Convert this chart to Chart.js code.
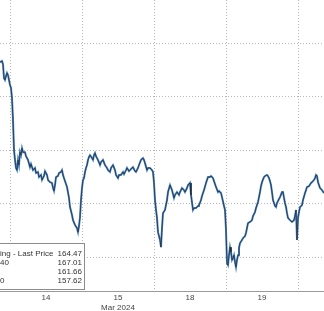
<!DOCTYPE html>
<html><head><meta charset="utf-8">
<script src="https://cdn.jsdelivr.net/npm/chart.js@4"></script>
<style>html,body{margin:0;padding:0;background:#fff;overflow:hidden}canvas{display:block}</style>
</head><body>
<canvas id="c" width="324" height="311"></canvas>
<script>
// time in minutes from start of Mar 14 (session axis), price
const minutes=[-200,-160,-140,-120,-100,-80,-60,-40,-20,0,20,40,60,80,100,120,140,160,180,200,220,240,260,300,320,360,400,420,460,500,520,560,580,620,640,680,700,740,760,800,840,860,880,900,920,960,980,1020,1040,1060,1080,1120,1140,1180,1200,1240,1260,1300,1340,1360,1380,1400,1420,1440,1460,1480,1500,1520,1540,1560,1580,1600,1640,1660,1680,1700,1720,1760,1800,1820,1860,1900,1940,1960,2000,2020,2060,2100,2120,2160,2180,2220,2260,2280,2320,2340,2380,2400,2440,2460,2500,2520,2560,2580,2620,2660,2680,2700,2740,2760,2800,2840,2860,2880,2900,2920,2940,2960,3000,3020,3040,3060,3100,3140,3160,3200,3240,3280,3300,3340,3380,3400,3440,3480,3500,3540,3560,3600,3620,3660,3680,3720,3760,3780,3820,3840,3880,3920,3960,4000,4020,4060,4080,4120,4160,4180,4220,4240,4280,4300,4320,4340,4360,4380,4400,4420,4440,4460,4480,4500,4520,4540,4560,4580,4600,4640,4660,4700,4720,4760,4800,4840,4860,4900,4920,4960,4980,5000,5020,5040,5080,5100,5140,5160,5180,5200,5220,5240,5260,5300,5320,5340,5380,5400,5440,5460,5480,5500,5520,5540,5560,5600,5640,5680,5700,5720,5740,5760,5780,5800,5840,5860,5900,5920,5940,5980,6020,6040,6080,6100,6120,6140,6160,6200,6240,6280];
const prices=[165.29,165.33,165.21,164.69,164.62,164.77,164.88,164.80,164.62,164.43,164.32,163.94,163.12,162.00,161.63,161.33,161.25,161.63,161.44,161.92,161.81,162.07,161.92,161.92,161.77,161.63,161.36,161.48,161.25,161.33,161.14,161.18,160.99,161.07,160.88,161.03,161.21,161.07,160.88,160.80,160.77,160.58,160.47,160.69,160.99,161.03,161.14,161.18,161.25,161.07,160.95,160.73,160.62,160.21,159.87,159.57,159.38,159.20,159.08,158.93,159.16,159.49,160.13,160.58,160.88,160.95,161.18,161.33,161.44,161.63,161.74,161.81,161.70,161.63,161.81,161.89,161.77,161.63,161.44,161.55,161.63,161.44,161.33,161.25,161.18,161.33,161.44,161.25,161.07,160.95,161.07,161.07,161.18,161.10,161.25,161.33,161.21,161.25,161.33,161.36,161.21,161.18,161.33,161.44,161.63,161.70,161.63,161.51,161.25,161.33,161.33,161.25,161.18,160.77,160.13,159.76,159.46,158.93,158.64,158.37,159.08,159.64,159.76,160.13,160.43,160.69,160.50,160.21,160.32,160.43,160.32,160.43,160.58,160.50,160.43,160.58,160.69,160.77,160.32,159.76,159.83,159.83,159.91,159.94,160.13,160.28,160.50,160.77,160.99,160.99,161.03,160.95,160.84,160.62,160.43,160.47,160.39,160.24,159.91,159.76,159.01,157.77,157.70,158.07,158.37,158.19,157.89,157.96,158.07,157.81,157.62,157.89,158.07,158.34,158.52,158.64,158.71,158.78,158.90,159.27,159.31,159.38,159.53,159.68,159.83,160.06,160.24,160.43,160.65,160.80,160.99,161.03,161.07,161.03,160.95,160.84,160.69,160.43,160.13,159.91,159.87,160.02,160.17,160.24,160.43,160.43,160.21,160.02,159.87,159.64,159.46,159.38,159.31,159.38,159.53,159.76,158.64,159.46,159.68,159.87,159.94,160.13,160.39,160.50,160.62,160.65,160.77,160.80,160.88,160.95,161.07,161.03,160.80,160.58,160.50,160.39];
const dayBoundaries=[0,1440,2880,4320,5760];
const dayCenters=[720,2160,3600,5040];
const dayLabels=['14','15','18','19'];
const monthLabels=['','Mar 2024','',''];
const priceGrid=[158,160,162,164,166];
const legendNames=['ing - Last Price','40','','0'];
const legendValues=['164.47','167.01','161.66','157.62'];

const points=minutes.map((m,i)=>({x:m,y:prices[i]}));

const legendBox={id:'legendBox',afterDraw(chart){
  const ctx=chart.ctx;ctx.save();
  ctx.fillStyle='#fff';ctx.fillRect(-2,243,87,47);
  ctx.strokeStyle='#8c8c8c';ctx.lineWidth=1;ctx.strokeRect(-1.5,243.5,86,46);
  ctx.font='8px "Liberation Sans", Arial, sans-serif';ctx.fillStyle='#333';ctx.textBaseline='middle';
  legendNames.forEach((t,i)=>{const y=254+i*9;ctx.textAlign='left';ctx.fillText(t,0,y);ctx.textAlign='right';ctx.fillText(legendValues[i],82,y);});
  ctx.restore();
}};

new Chart(document.getElementById('c'),{
  type:'line',
  data:{datasets:[
    {data:points,borderColor:'rgba(25,25,25,0.8)',borderWidth:0.8,pointRadius:0,tension:0,order:0},
    {data:points,borderColor:'#4a86c4',borderWidth:2,pointRadius:0,tension:0,order:1}
  ]},
  options:{
    responsive:false,animation:false,
    layout:{padding:0},
    plugins:{legend:{display:false},tooltip:{enabled:false}},
    scales:{
      x:{type:'linear',min:-200,max:6280,position:'bottom',
        afterBuildTicks:s=>{s.ticks=dayBoundaries.map(v=>({value:v}));},
        ticks:{display:false},
        grid:{color:'#b8b8b8',lineWidth:1,drawTicks:false},
        border:{display:true,color:'#9a9a9a',width:1,dash:[1,2]},
        afterFit:s=>{s.height=0;}
      },
      x2:{type:'linear',min:-200,max:6280,position:'bottom',
        afterBuildTicks:s=>{s.ticks=dayCenters.map(v=>({value:v}));},
        ticks:{autoSkip:false,maxRotation:0,padding:2,color:'#444',font:{family:'"Liberation Sans", Arial, sans-serif',size:8,lineHeight:1.2},
          callback:(v,i)=>monthLabels[i]?[dayLabels[i],monthLabels[i]]:dayLabels[i]},
        grid:{display:false,drawTicks:false},
        border:{display:false},
        afterFit:s=>{s.height=20;}
      },
      y:{type:'linear',min:156.73,max:167.61,
        afterBuildTicks:s=>{s.ticks=priceGrid.map(v=>({value:v}));},
        ticks:{display:false},
        grid:{color:'#b8b8b8',lineWidth:1,drawTicks:false},
        border:{display:false,dash:[1,2]},
        afterFit:s=>{s.width=0;}
      }
    }
  },
  plugins:[legendBox]
});
</script>
</body></html>
